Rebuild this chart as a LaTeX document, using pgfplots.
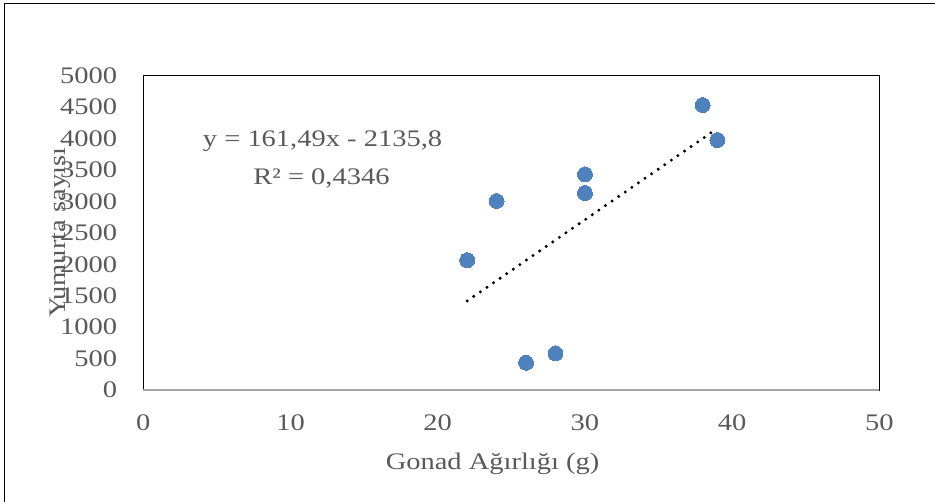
\documentclass[border=0pt]{standalone}
\usepackage{fontspec}
\setmainfont{Liberation Serif}[FakeStretch=1.2]
\usepackage{pgfplots}
\pgfplotsset{compat=1.18}
\definecolor{pt}{HTML}{4F81BD}
\definecolor{txt}{HTML}{595959}
\definecolor{axgray}{HTML}{A6A6A6}

\begin{document}
\fontsize{17.8}{21}\selectfont
\begin{tikzpicture}
\path[use as bounding box] (0,0) rectangle (701.25pt,-376.5pt);
% outer chart frame (right and bottom edges are cut off in the reference)
\draw[line width=1.1pt] (3.4pt,-400pt) -- (3.4pt,-2.5pt) -- (720pt,-2.5pt);

\begin{axis}[
    at={(107.5pt,-292.5pt)}, anchor=origin,
    scale only axis,
    width=552pt, height=235.7pt,
    xmin=0, xmax=50, ymin=0, ymax=5000,
    xtick={0,10,...,50}, ytick={0,500,...,5000},
    major tick length=0pt,
    axis line style={black, line width=1.1pt},
    tick label style={text=txt, font=\fontsize{17.8}{21}\selectfont},
    /pgf/number format/assume math mode=true,
    /pgf/number format/1000 sep={},
    yticklabel style={xshift=-13.5pt},
    xticklabel style={yshift=-12.5pt},
    xlabel={Gonad Ağırlığı (g)},
    ylabel={Yumurta sayısı},
    label style={text=txt, font=\fontsize{17.8}{21}\selectfont},
    xlabel style={at={(axis description cs:0.4745,-0.235)}, anchor=center},
    ylabel style={at={(axis description cs:-0.113,0.5)}, anchor=center, rotate=0},
    clip=false,
]
% data points
\addplot[only marks, color=pt, mark=*, mark size=5.6pt, mark options={fill=pt, draw=pt, line width=0pt}]
coordinates {
    (22,2065) (24,3007) (26,434) (28,583)
    (30,3431) (30,3134) (38,4534) (39,3977)
};
% linear trendline y = 161.49x - 2135.8
\addplot[black, line width=2.5pt, line cap=round, dash pattern=on 0pt off 6pt]
coordinates {(22,1417.0) (39,4162.3)};
% grey horizontal axis line
\draw[axgray, line width=1.6pt] (axis cs:0,0) -- (axis cs:50,0);
\end{axis}

\node[anchor=base, text=txt] at (241.9pt,-110.25pt) {y = 161,49x - 2135,8};
\node[anchor=base, text=txt] at (241.1pt,-138.75pt) {R² = 0,4346};
\end{tikzpicture}
\end{document}
